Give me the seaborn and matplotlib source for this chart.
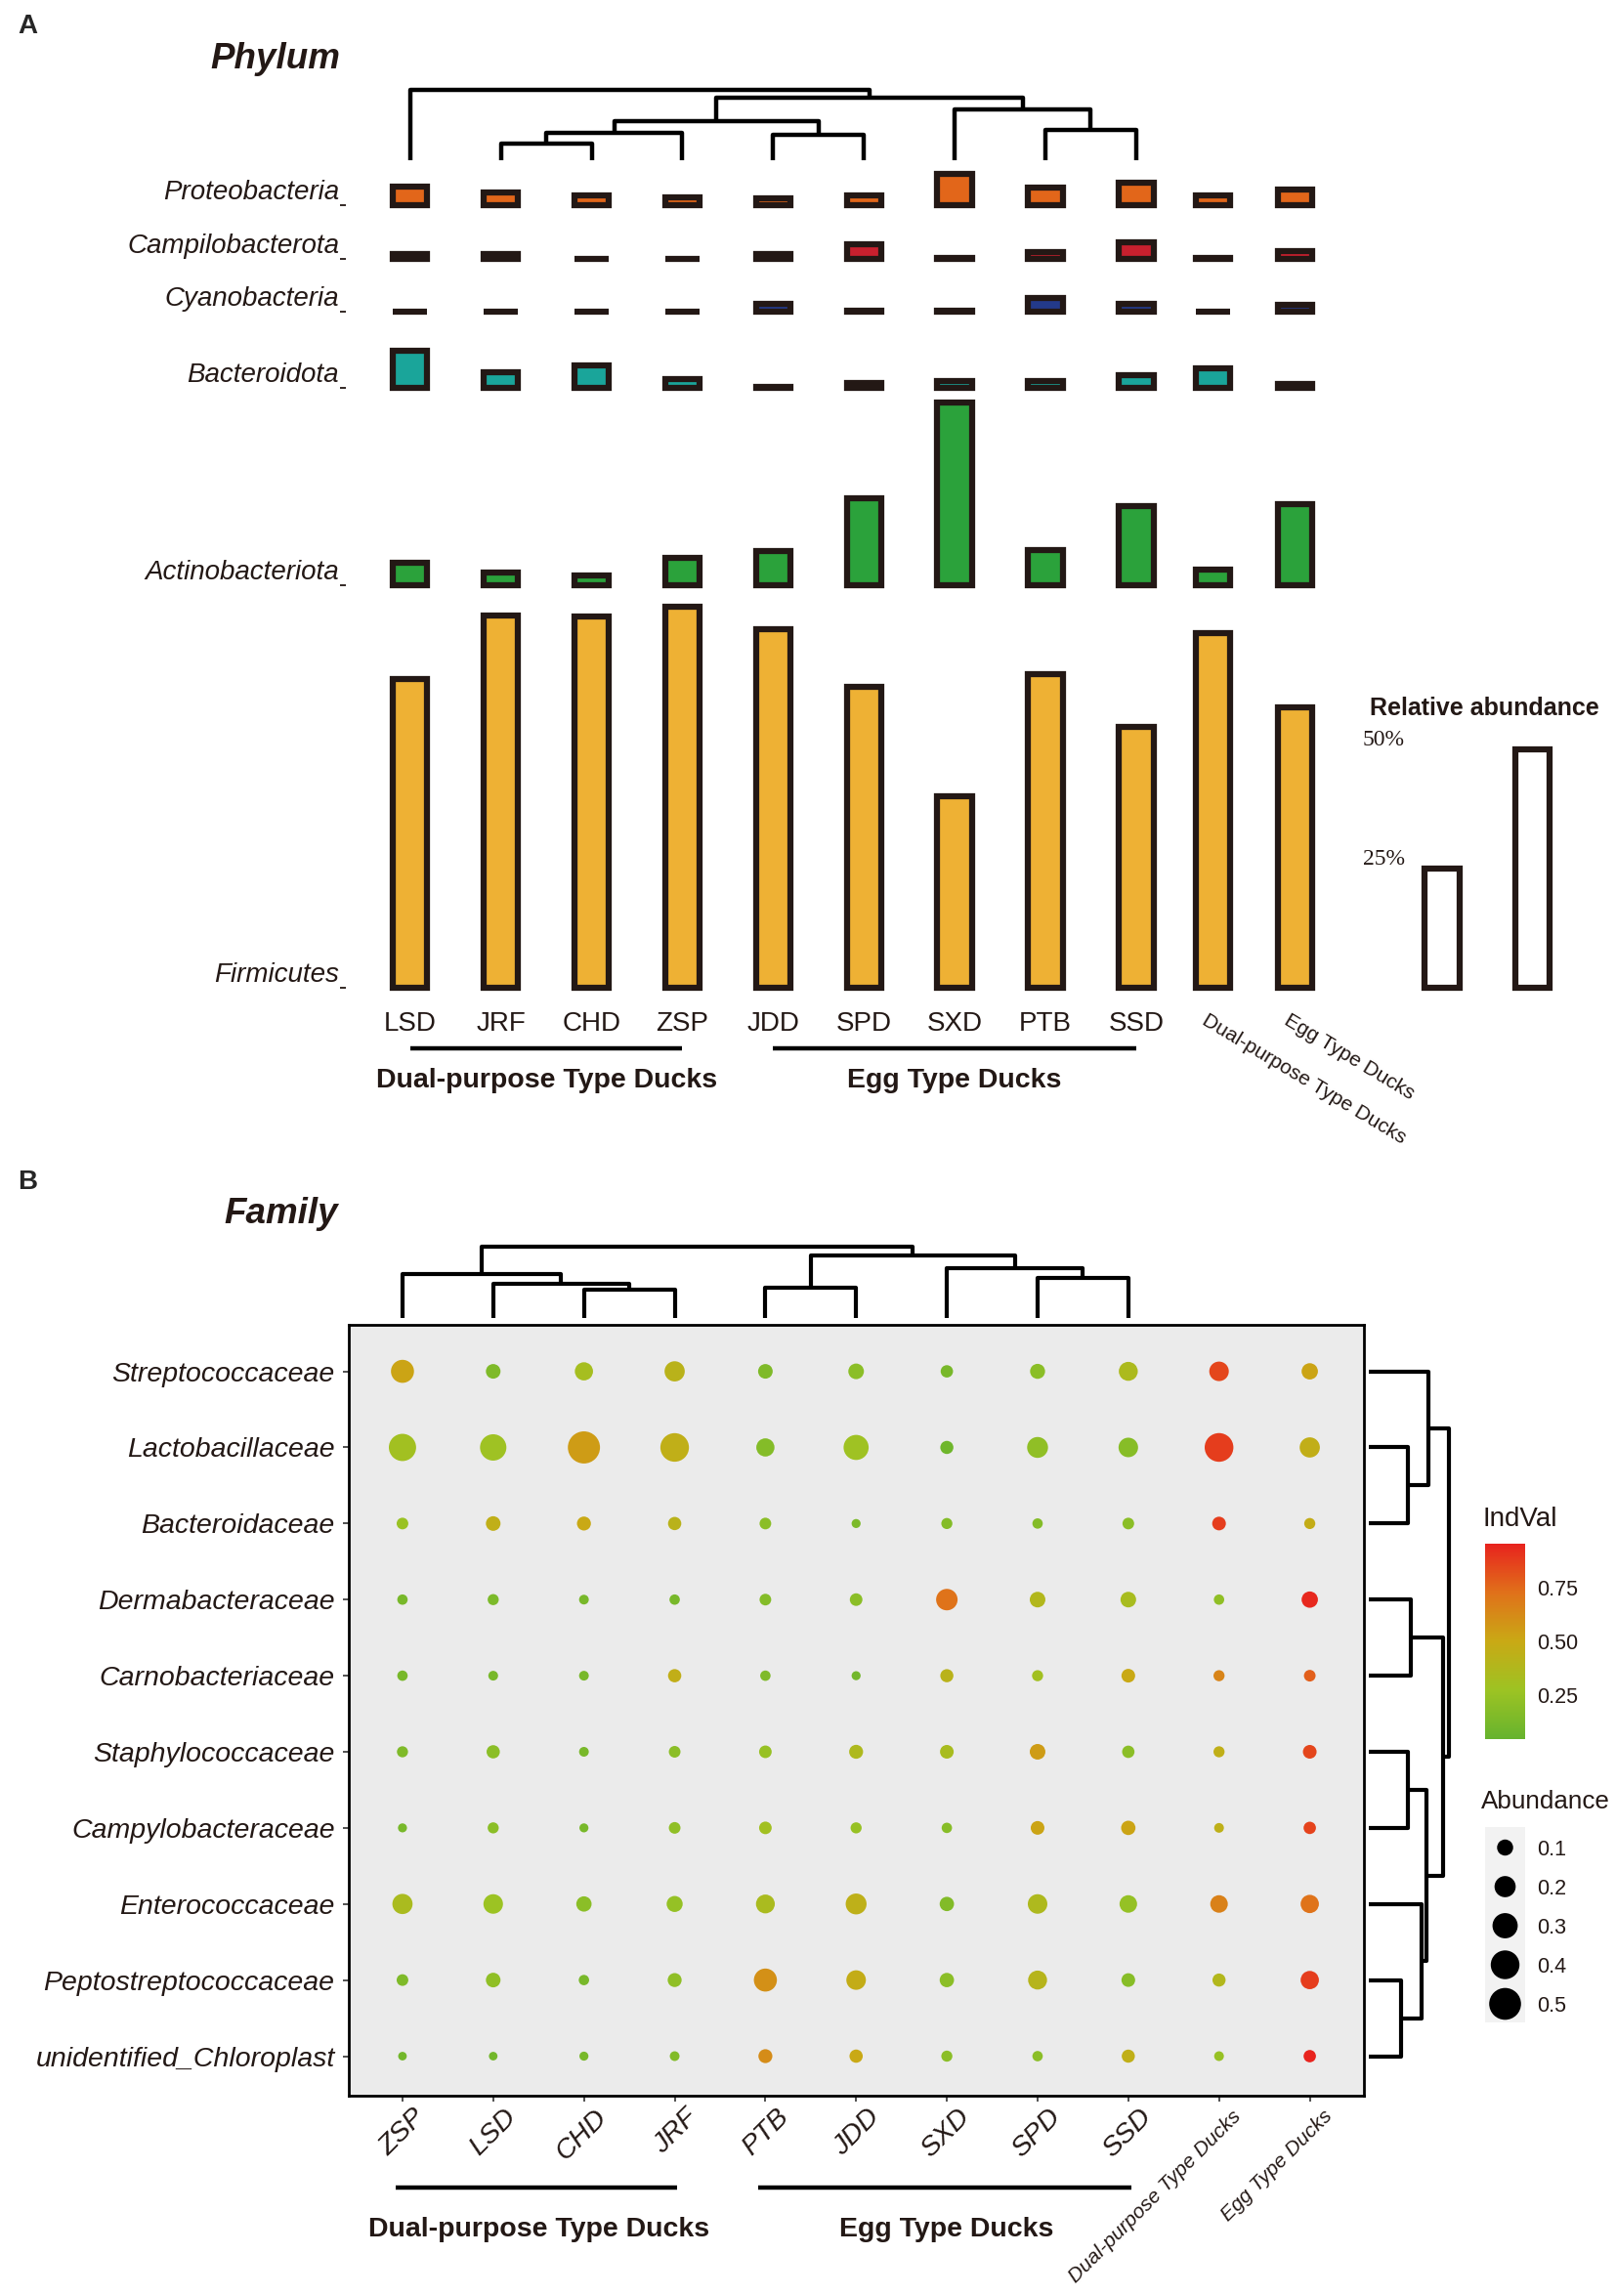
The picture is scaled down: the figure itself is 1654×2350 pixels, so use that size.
import numpy as np
import pandas as pd
import matplotlib
matplotlib.use("Agg")
import matplotlib.pyplot as plt
import matplotlib.transforms as mtransforms
from matplotlib.colors import LinearSegmentedColormap, Normalize
from matplotlib.cm import ScalarMappable
import seaborn as sns

# ---------------- panel A: relative abundance (%) of phyla
phylum_groups = ["LSD", "JRF", "CHD", "ZSP", "JDD", "SPD", "SXD", "PTB", "SSD",
                 "Dual-purpose Type Ducks", "Egg Type Ducks"]
phyla = ["Firmicutes", "Actinobacteriota", "Bacteroidota", "Cyanobacteria",
         "Campilobacterota", "Proteobacteria"]
firmicutes = [64.7, 78.1, 78.0, 80.0, 75.3, 63.1, 40.2, 65.9, 54.7, 74.4, 58.9]
actinobacteriota = [4.8, 2.7, 2.2, 5.8, 7.3, 18.4, 38.4, 7.5, 16.7, 3.4, 17.0]
bacteroidota = [7.8, 3.4, 4.7, 1.9, 0.3, 1.1, 1.4, 1.5, 2.7, 4.2, 0.9]
cyanobacteria = [0.0, 0.1, 0.0, 0.0, 1.7, 0.3, 0.3, 2.8, 1.7, 0.0, 1.4]
campilobacterota = [1.1, 1.1, 0.0, 0.0, 1.1, 3.1, 0.3, 1.4, 3.4, 0.3, 1.6]
proteobacteria = [3.9, 2.7, 2.2, 1.7, 1.4, 2.2, 6.7, 3.8, 4.7, 2.2, 3.4]
phylum_colors = ["#EEB134", "#2BA23B", "#1AA59A", "#233A8A", "#C8202E", "#E2661A"]
scale_values = [25, 50]
scale_labels = ["25%", "50%"]

# dendrogram merges (left, right, height); new clusters numbered after the leaves
phylum_tree = [(1, 2, 23), (9, 3, 38), (4, 5, 35), (10, 11, 53),
               (7, 8, 42), (6, 13, 70), (12, 14, 85), (0, 15, 96)]

# ---------------- panel B: indicator families
family_groups = ["ZSP", "LSD", "CHD", "JRF", "PTB", "JDD", "SXD", "SPD", "SSD",
                 "Dual-purpose Type Ducks", "Egg Type Ducks"]
families = ["Streptococcaceae", "Lactobacillaceae", "Bacteroidaceae", "Dermabacteraceae",
            "Carnobacteriaceae", "Staphylococcaceae", "Campylobacteraceae",
            "Enterococcaceae", "Peptostreptococcaceae", "unidentified_Chloroplast"]
family_abundance = [
    [0.244, 0.076, 0.138, 0.179, 0.076, 0.092, 0.044, 0.082, 0.153, 0.165, 0.104],
    [0.356, 0.331, 0.510, 0.396, 0.138, 0.296, 0.054, 0.194, 0.165, 0.400, 0.179],
    [0.035, 0.076, 0.066, 0.056, 0.035, 0.006, 0.028, 0.020, 0.035, 0.062, 0.028],
    [0.020, 0.028, 0.013, 0.020, 0.035, 0.047, 0.207, 0.092, 0.092, 0.020, 0.104],
    [0.020, 0.013, 0.013, 0.056, 0.020, 0.006, 0.054, 0.028, 0.062, 0.028, 0.035],
    [0.028, 0.056, 0.013, 0.035, 0.047, 0.066, 0.062, 0.092, 0.044, 0.028, 0.062],
    [0.006, 0.028, 0.006, 0.035, 0.047, 0.028, 0.020, 0.062, 0.072, 0.013, 0.044],
    [0.179, 0.165, 0.087, 0.099, 0.151, 0.194, 0.072, 0.165, 0.126, 0.126, 0.140],
    [0.035, 0.076, 0.020, 0.066, 0.244, 0.165, 0.072, 0.153, 0.062, 0.054, 0.140],
    [0.002, 0.002, 0.006, 0.013, 0.066, 0.056, 0.028, 0.020, 0.054, 0.013, 0.044],
]
family_indval = [
    [0.52, 0.15, 0.32, 0.42, 0.15, 0.20, 0.12, 0.20, 0.35, 0.85, 0.52],
    [0.30, 0.28, 0.55, 0.45, 0.17, 0.28, 0.08, 0.22, 0.18, 0.88, 0.46],
    [0.26, 0.45, 0.50, 0.42, 0.20, 0.14, 0.17, 0.17, 0.20, 0.88, 0.47],
    [0.12, 0.14, 0.12, 0.12, 0.17, 0.20, 0.72, 0.38, 0.33, 0.22, 0.94],
    [0.12, 0.12, 0.12, 0.46, 0.15, 0.10, 0.42, 0.30, 0.50, 0.65, 0.78],
    [0.15, 0.20, 0.12, 0.20, 0.25, 0.36, 0.33, 0.55, 0.20, 0.45, 0.85],
    [0.12, 0.20, 0.12, 0.22, 0.30, 0.25, 0.18, 0.52, 0.52, 0.44, 0.86],
    [0.34, 0.27, 0.20, 0.24, 0.34, 0.44, 0.16, 0.36, 0.24, 0.66, 0.72],
    [0.15, 0.22, 0.12, 0.22, 0.60, 0.47, 0.20, 0.40, 0.18, 0.38, 0.88],
    [0.10, 0.10, 0.12, 0.16, 0.62, 0.50, 0.20, 0.20, 0.45, 0.25, 0.95],
]
size_breaks = [0.1, 0.2, 0.3, 0.4, 0.5]
indval_ticks = [0.25, 0.50, 0.75]
indval_range = (0.044, 0.955)
indval_colors = ["#66B32E", "#9DC323", "#C9A915", "#E0711A", "#E8231E"]

family_col_tree = [(2, 3, 38), (1, 9, 45), (0, 10, 58), (4, 5, 40),
                   (7, 8, 53), (6, 13, 67), (12, 14, 83), (11, 15, 95)]
family_row_tree = [(1, 2, 110), (0, 10, 170), (3, 4, 120), (5, 6, 110), (8, 9, 93),
                   (7, 14, 150), (13, 15, 165), (12, 16, 210), (11, 17, 227)]


def tree_segments(merges, n_leaves, positions):
    pos = {i: positions[i] for i in range(n_leaves)}
    hgt = {i: 0.0 for i in range(n_leaves)}
    segs = []
    for k, (a, b, h) in enumerate(merges):
        segs.append(([pos[a], pos[a], pos[b], pos[b]], [hgt[a], h, h, hgt[b]]))
        pos[n_leaves + k] = (pos[a] + pos[b]) / 2
        hgt[n_leaves + k] = h
    return segs


W, H = 1654, 2350


def box(x0, y0, x1, y1):
    return [x0 / W, 1 - y1 / H, (x1 - x0) / W, (y1 - y0) / H]


sns.set_style("white")
plt.rcParams['font.family'] = ['Liberation Sans', 'DejaVu Sans']
DARK = "#231815"

fig = plt.figure(figsize=(W / 100, H / 100), dpi=100)

# ================= panel A =================
axa = fig.add_axes(box(354, 162, 1618, 1021))
axa.set_xlim(-0.709, 12.9)
axa.set_ylim(-2, 174)
axa.patch.set_visible(False)
for s in axa.spines.values():
    s.set_visible(False)

x_pos = np.arange(len(phylum_groups), dtype=float)
x_pos[9:] -= [0.15, 0.25]
phylum_values = [firmicutes, actinobacteriota, bacteroidota, cyanobacteria,
                 campilobacterota, proteobacteria]
# baseline of each phylum row (layout, in % units of the bar scale)
row_base = [0.0, 84.4, 125.8, 141.8, 152.9, 164.1]

for vals, off, col in zip(phylum_values, row_base, phylum_colors):
    axa.bar(x_pos, vals, bottom=off, width=0.38, color=col, edgecolor=DARK,
            linewidth=4.5, align="center")

# scale bars
legend_x = np.array([11.37, 12.37])
axa.bar(legend_x, scale_values, width=0.38, color="white", edgecolor=DARK, linewidth=4.5)
for lx, v, lab in zip(legend_x, scale_values, scale_labels):
    axa.text(legend_x[0] - 0.64, v + 2.0, lab, ha="center", va="center", fontsize=17,
             family=["Liberation Serif", "DejaVu Serif"], color=DARK)
axa.text(legend_x.mean() - 0.03, 58.6, "Relative abundance", ha="center", va="center",
         fontsize=18, weight="bold", color=DARK)

axa.set_yticks(row_base, phyla)
for lab in axa.get_yticklabels():
    lab.set_fontstyle("italic")
    lab.set_va("bottom")
axa.tick_params(axis="y", left=True, length=4, width=1.3, color=DARK, pad=1,
                labelsize=20, labelcolor=DARK)

axa.set_xticks(x_pos, phylum_groups)
axa.tick_params(axis="x", bottom=False, length=0, pad=10, labelsize=20, labelcolor=DARK)
shift_left = mtransforms.ScaledTranslation(-0.05, 0, fig.dpi_scale_trans)
for lab in axa.get_xticklabels()[9:]:
    lab.set_fontsize(15)
    lab.set_rotation(-31)
    lab.set_rotation_mode("anchor")
    lab.set_ha("left")
    lab.set_va("top")
    lab.set_transform(lab.get_transform() + shift_left)

for (i0, i1), name in [((0, 3), "Dual-purpose Type Ducks"), ((4, 8), "Egg Type Ducks")]:
    axa.plot([x_pos[i0], x_pos[i1]], [-12.7, -12.7], color="black", lw=3.2,
             clip_on=False, solid_capstyle="butt")
    axa.text((x_pos[i0] + x_pos[i1]) / 2, -19.5, name, ha="center", va="center",
             fontsize=20.5, weight="bold", color=DARK)

# phylum dendrogram
axd = fig.add_axes(box(354, 92, 1618, 164))
axd.set_xlim(axa.get_xlim())
axd.set_ylim(0, 96)
axd.axis("off")
for xs, ys in tree_segments(phylum_tree, 9, x_pos[:9]):
    axd.plot(xs, ys, color="black", lw=3.2, clip_on=False, solid_capstyle="butt")

fig.text(18 / W, 1 - 27 / H, "A", fontsize=20, weight="bold", va="center")
fig.text(282 / W, 1 - 60 / H, "Phylum", fontsize=26.5, weight="bold", style="italic",
         ha="center", va="center", color=DARK)

# ================= panel B =================
indval_cmap = LinearSegmentedColormap.from_list("indval", indval_colors)
size_range = (38, 602)
size_norm = (0, 0.55)

axb = fig.add_axes(box(356.5, 1355.7, 1396, 2145))
df = pd.DataFrame({
    "group": np.tile(family_groups, len(families)),
    "family": np.repeat(families, len(family_groups)),
    "Abundance": np.ravel(family_abundance),
    "IndVal": np.ravel(family_indval),
})
sns.scatterplot(data=df, x="group", y="family", hue="IndVal", size="Abundance",
                palette=indval_cmap, hue_norm=indval_range, sizes=size_range,
                size_norm=size_norm, linewidth=0, legend=False, ax=axb)
axb.set_xlim(-0.597, 10.597)
axb.set_ylim(9.52, -0.615)
axb.set_facecolor("#EBEBEB")
for s in axb.spines.values():
    s.set_color("black")
    s.set_linewidth(2)
axb.set_xlabel("")
axb.set_ylabel("")
axb.tick_params(axis="y", left=True, length=4, width=1.2, color="#333333", pad=6,
                labelsize=20.5, labelcolor=DARK)
axb.tick_params(axis="x", bottom=True, length=4, width=1.2, color="#333333", pad=9,
                labelsize=20.5, labelcolor=DARK)
for lab in axb.get_yticklabels():
    lab.set_fontstyle("italic")
shift_right = mtransforms.ScaledTranslation(0.20, 0, fig.dpi_scale_trans)
for i, lab in enumerate(axb.get_xticklabels()):
    lab.set_fontstyle("italic")
    lab.set_rotation(45)
    lab.set_rotation_mode("anchor")
    lab.set_ha("right")
    lab.set_va("center")
    lab.set_transform(lab.get_transform() + shift_right)
    if i >= 9:
        lab.set_fontsize(15)

for (i0, i1), name in [((0, 3), "Dual-purpose Type Ducks"), ((4, 8), "Egg Type Ducks")]:
    axb.plot([i0 - 0.08, i1 + 0.03], [10.73, 10.73], color="black", lw=3.2,
             clip_on=False, solid_capstyle="butt")
    axb.text((i0 + i1) / 2, 11.28, name, ha="center", va="center",
             fontsize=20.5, weight="bold", color=DARK)

# column dendrogram
axt = fig.add_axes(box(356.5, 1276, 1396, 1349))
axt.set_xlim(axb.get_xlim())
axt.set_ylim(0, 95)
axt.axis("off")
for xs, ys in tree_segments(family_col_tree, 9, np.arange(9)):
    axt.plot(xs, ys, color="black", lw=3.0, clip_on=False, solid_capstyle="butt")

# row dendrogram
axr = fig.add_axes(box(1401, 1355.7, 1483, 2145))
axr.set_ylim(axb.get_ylim())
axr.set_xlim(0, 228)
axr.axis("off")
for ys, xs in tree_segments(family_row_tree, 10, np.arange(10)):
    axr.plot(xs, ys, color="black", lw=3.0, clip_on=False, solid_capstyle="butt")

# IndVal colour bar
cax = fig.add_axes(box(1520, 1580, 1561, 1780))
cbar = fig.colorbar(ScalarMappable(norm=Normalize(*indval_range), cmap=indval_cmap),
                    cax=cax, ticks=indval_ticks)
cbar.outline.set_visible(False)
cbar.ax.set_yticklabels([f"{t:.2f}" for t in indval_ticks])
cbar.ax.tick_params(axis="y", direction="in", left=True, right=True, length=8,
                    width=1.2, color="white", labelsize=15.5, labelcolor=DARK, pad=9)
fig.text(1518 / W, 1 - 1555 / H, "IndVal", fontsize=20, va="center", ha="left", color=DARK)

# Abundance size legend
axl = fig.add_axes(box(1520, 1870, 1561, 2070))
leg_df = pd.DataFrame({"x": 0.0, "y": np.arange(len(size_breaks)), "Abundance": size_breaks})
sns.scatterplot(data=leg_df, x="x", y="y", size="Abundance", sizes=size_range,
                size_norm=size_norm, color="black", linewidth=0, legend=False, ax=axl)
axl.set_facecolor("#F2F2F2")
axl.set_xlim(-1, 1)
axl.set_ylim(len(size_breaks) - 0.525, -0.525)
axl.set_xlabel("")
axl.set_ylabel("")
axl.set_xticks([])
for s in axl.spines.values():
    s.set_visible(False)
axl.yaxis.tick_right()
axl.set_yticks(np.arange(len(size_breaks)), [str(v) for v in size_breaks])
axl.tick_params(axis="y", length=0, pad=9, labelsize=15.5, labelcolor=DARK)
fig.text(1516 / W, 1 - 1844 / H, "Abundance", fontsize=18.7, va="center", ha="left", color=DARK)

fig.text(18 / W, 1 - 1210 / H, "B", fontsize=20, weight="bold", va="center")
fig.text(288 / W, 1 - 1243 / H, "Family", fontsize=26.5, weight="bold", style="italic",
         ha="center", va="center", color=DARK)

fig.savefig("out.png", dpi=100)
